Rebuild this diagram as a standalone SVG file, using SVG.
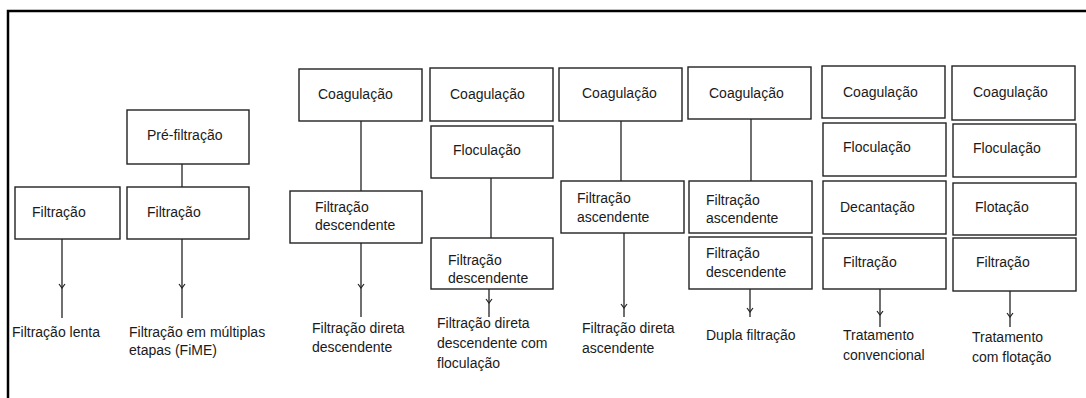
<svg xmlns="http://www.w3.org/2000/svg" width="1086" height="398" viewBox="0 0 1086 398">
<defs>
<style>
.box{fill:#fff;stroke:#222;stroke-width:1.4}
.t{font-family:"Liberation Sans",Arial,sans-serif;font-size:14px;fill:#1a1a1a}
.c{fill:none;stroke:#222;stroke-width:1.3}
.frame{fill:none;stroke:#000;stroke-width:2.5}
</style>
<marker id="ah" markerUnits="userSpaceOnUse" markerWidth="10" markerHeight="10" refX="0" refY="0" viewBox="-5 -5 10 10" orient="auto">
<path d="M-4,-3 L0,0 L-4,3" fill="none" stroke="#222" stroke-width="1.2"/>
</marker>
</defs>
<rect width="1086" height="398" fill="#fff"/>
<path class="frame" d="M8,400 L8,11 L1090,11"/>

<g id="connectors">
<path class="c" d="M182,164 L182,187"/>
<path class="c" d="M62,239 L62,288 L62,318" marker-mid="url(#ah)"/>
<path class="c" d="M182,239 L182,288 L182,318" marker-mid="url(#ah)"/>
<path class="c" d="M361,121 L361,191"/>
<path class="c" d="M361,243 L361,288 L361,317" marker-mid="url(#ah)"/>
<path class="c" d="M491,178 L491,238"/>
<path class="c" d="M489,289 L489,303 L489,317" marker-mid="url(#ah)"/>
<path class="c" d="M621,121 L621,181"/>
<path class="c" d="M624,233 L624,308 L624,317" marker-mid="url(#ah)"/>
<path class="c" d="M751,119 L751,181"/>
<path class="c" d="M750,289 L750,312 L750,317" marker-mid="url(#ah)"/>
<path class="c" d="M880,289 L880,315 L880,327" marker-mid="url(#ah)"/>
<path class="c" d="M1010,291 L1010,317 L1010,327" marker-mid="url(#ah)"/>
</g>

<g id="col1-filtracao"><rect class="box" x="15" y="187" width="105" height="52"/><text class="t" x="32" y="217">Filtração</text></g>
<g id="col1-out"><text class="t" x="12" y="337">Filtração lenta</text></g>

<g id="col2-prefiltracao"><rect class="box" x="127" y="110" width="122" height="54"/><text class="t" x="147" y="140">Pré-filtração</text></g>
<g id="col2-filtracao"><rect class="box" x="127" y="187" width="122" height="52"/><text class="t" x="147" y="217">Filtração</text></g>
<g id="col2-out"><text class="t" x="129" y="337">Filtração em múltiplas</text><text class="t" x="129" y="355">etapas (FiME)</text></g>

<g id="col3-coag"><rect class="box" x="299" y="69" width="123" height="52"/><text class="t" x="318" y="99">Coagulação</text></g>
<g id="col3-filt"><rect class="box" x="290" y="191" width="132" height="52"/><text class="t" x="315" y="212">Filtração</text><text class="t" x="315" y="230">descendente</text></g>
<g id="col3-out"><text class="t" x="312" y="333">Filtração direta</text><text class="t" x="312" y="352">descendente</text></g>

<g id="col4-coag"><rect class="box" x="430" y="68" width="123" height="53"/><text class="t" x="450" y="99">Coagulação</text></g>
<g id="col4-floc"><rect class="box" x="431" y="126" width="122" height="52"/><text class="t" x="453" y="155">Floculação</text></g>
<g id="col4-filt"><rect class="box" x="431" y="238" width="122" height="51"/><text class="t" x="448" y="265">Filtração</text><text class="t" x="448" y="283">descendente</text></g>
<g id="col4-out"><text class="t" x="437" y="328">Filtração direta</text><text class="t" x="437" y="348">descendente com</text><text class="t" x="437" y="368">floculação</text></g>

<g id="col5-coag"><rect class="box" x="559" y="68" width="123" height="53"/><text class="t" x="582" y="98">Coagulação</text></g>
<g id="col5-filt"><rect class="box" x="561" y="181" width="123" height="52"/><text class="t" x="577" y="203">Filtração</text><text class="t" x="577" y="222">ascendente</text></g>
<g id="col5-out"><text class="t" x="582" y="333">Filtração direta</text><text class="t" x="582" y="353">ascendente</text></g>

<g id="col6-coag"><rect class="box" x="688" y="67" width="123" height="52"/><text class="t" x="709" y="98">Coagulação</text></g>
<g id="col6-asc"><rect class="box" x="689" y="181" width="123" height="52"/><text class="t" x="706" y="205">Filtração</text><text class="t" x="706" y="223">ascendente</text></g>
<g id="col6-desc"><rect class="box" x="689" y="237" width="123" height="52"/><text class="t" x="706" y="258">Filtração</text><text class="t" x="706" y="277">descendente</text></g>
<g id="col6-out"><text class="t" x="706" y="340">Dupla filtração</text></g>

<g id="col7-coag"><rect class="box" x="822" y="66" width="123" height="52"/><text class="t" x="843" y="97">Coagulação</text></g>
<g id="col7-floc"><rect class="box" x="823" y="123" width="123" height="53"/><text class="t" x="843" y="152">Floculação</text></g>
<g id="col7-dec"><rect class="box" x="823" y="181" width="123" height="53"/><text class="t" x="840" y="212">Decantação</text></g>
<g id="col7-filt"><rect class="box" x="823" y="238" width="123" height="51"/><text class="t" x="843" y="267">Filtração</text></g>
<g id="col7-out"><text class="t" x="843" y="340">Tratamento</text><text class="t" x="843" y="360">convencional</text></g>

<g id="col8-coag"><rect class="box" x="952" y="66" width="123" height="54"/><text class="t" x="973" y="97">Coagulação</text></g>
<g id="col8-floc"><rect class="box" x="953" y="124" width="123" height="53"/><text class="t" x="973" y="153">Floculação</text></g>
<g id="col8-flot"><rect class="box" x="953" y="183" width="123" height="52"/><text class="t" x="975" y="212">Flotação</text></g>
<g id="col8-filt"><rect class="box" x="953" y="238" width="123" height="53"/><text class="t" x="976" y="267">Filtração</text></g>
<g id="col8-out"><text class="t" x="972" y="342">Tratamento</text><text class="t" x="972" y="362">com flotação</text></g>
</svg>
